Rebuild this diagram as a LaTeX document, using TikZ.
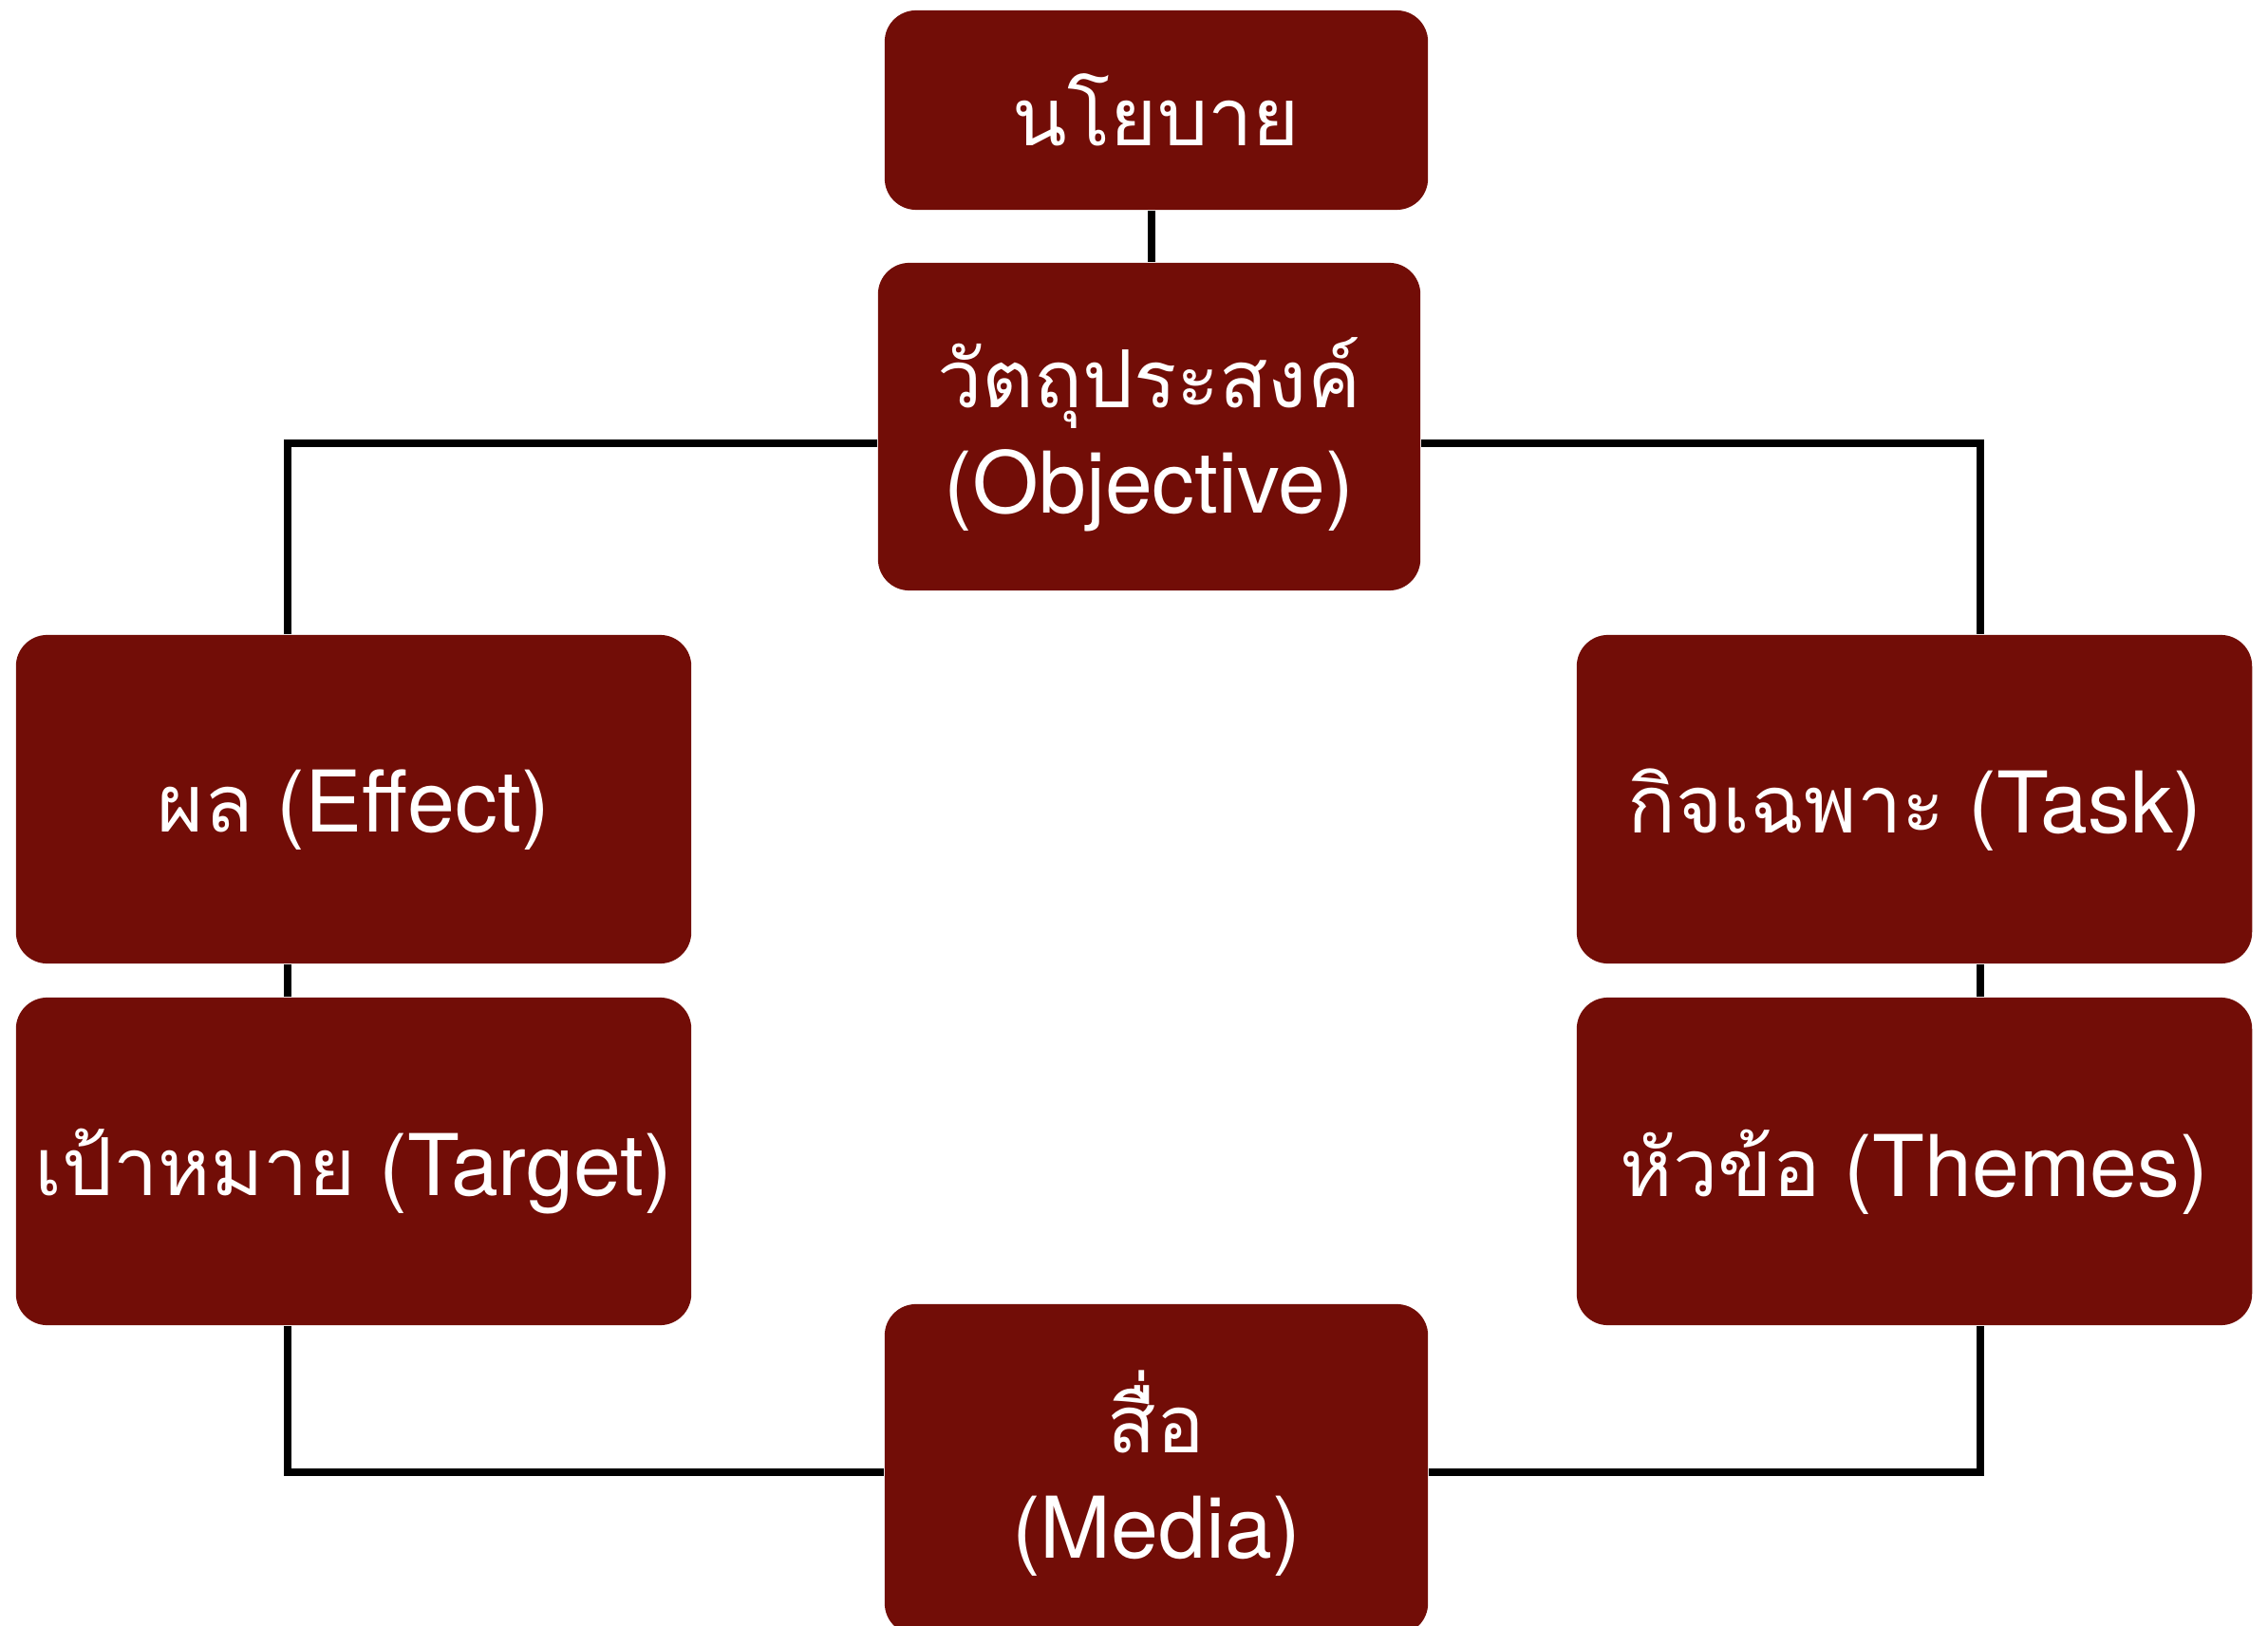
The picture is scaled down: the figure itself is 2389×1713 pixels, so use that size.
\documentclass[tikz,border=0pt]{standalone}
\usepackage{fontspec}
\setmainfont{TeX Gyre Heros}
\newfontfamily\thai[Script=Thai,Scale=0.94]{Loma}
\definecolor{boxred}{RGB}{114,13,7}
\tikzset{
  box/.style={fill=boxred, rounded corners=0.33cm, inner sep=0pt},
  txt/.style={text=white, align=center, inner sep=0pt,
    font=\fontsize{25.5}{31.5}\selectfont},
  conn/.style={draw=black, line width=0.08cm}
}
\begin{document}
\begin{tikzpicture}[x=0.01cm,y=-0.01cm]
\clip (0,0) rectangle (2389,1713);
\useasboundingbox (0,0) rectangle (2389,1713);
\coordinate (cL) at (303,467);
\coordinate (cR) at (2086,467);
\coordinate (cBL) at (303,1551);
\coordinate (cBR) at (2086,1551);
% boxes
\node[box, minimum width=5.72cm, minimum height=2.10cm] (top) at (1218,116) {};
\node[box, minimum width=5.71cm, minimum height=3.45cm] (obj) at (1210.5,449.5) {};
\node[box, minimum width=7.11cm, minimum height=3.46cm] (eff) at (372.5,842) {};
\node[box, minimum width=7.11cm, minimum height=3.45cm] (tar) at (372.5,1223.5) {};
\node[box, minimum width=7.11cm, minimum height=3.46cm] (task) at (2016.5,842) {};
\node[box, minimum width=7.11cm, minimum height=3.45cm] (thm) at (2016.5,1223.5) {};
\node[box, minimum width=5.72cm, minimum height=3.48cm] (med) at (1218,1548) {};
% texts
\node[txt] (topt) at (top.center) {{\thai นโยบาย}};
\node[txt] (objt) at ([yshift=-0.08cm]obj.center) {{\thai วัตถุประสงค์}\\(Objective)};
\node[txt] (efft) at ([yshift=-0.11cm]eff.center) {{\thai ผล} (Effect)};
\node[txt] (tart) at ([yshift=-0.11cm]tar.center) {{\thai เป้าหมาย} (Target)};
\node[txt] (taskt) at ([yshift=-0.11cm]task.center) {{\thai กิจเฉพาะ} (Task)};
\node[txt] (thmt) at ([yshift=-0.11cm]thm.center) {{\thai หัวข้อ} (Themes)};
\node[txt] (medt) at ([yshift=-0.045cm]med.center) {{\thai สื่อ}\\(Media)};
% connectors
\draw[conn] (top.south -| 1213,0) -- (obj.north -| 1213,0);
\draw[conn] (obj.west |- cL) -- (cL) -- (eff.north -| cL);
\draw[conn] (obj.east |- cR) -- (cR) -- (task.north -| cR);
\draw[conn] (eff.south -| cL) -- (tar.north -| cL);
\draw[conn] (task.south -| cR) -- (thm.north -| cR);
\draw[conn] (tar.south -| cBL) -- (cBL) -- (med.west |- cBL);
\draw[conn] (thm.south -| cBR) -- (cBR) -- (med.east |- cBR);
\end{tikzpicture}
\end{document}
